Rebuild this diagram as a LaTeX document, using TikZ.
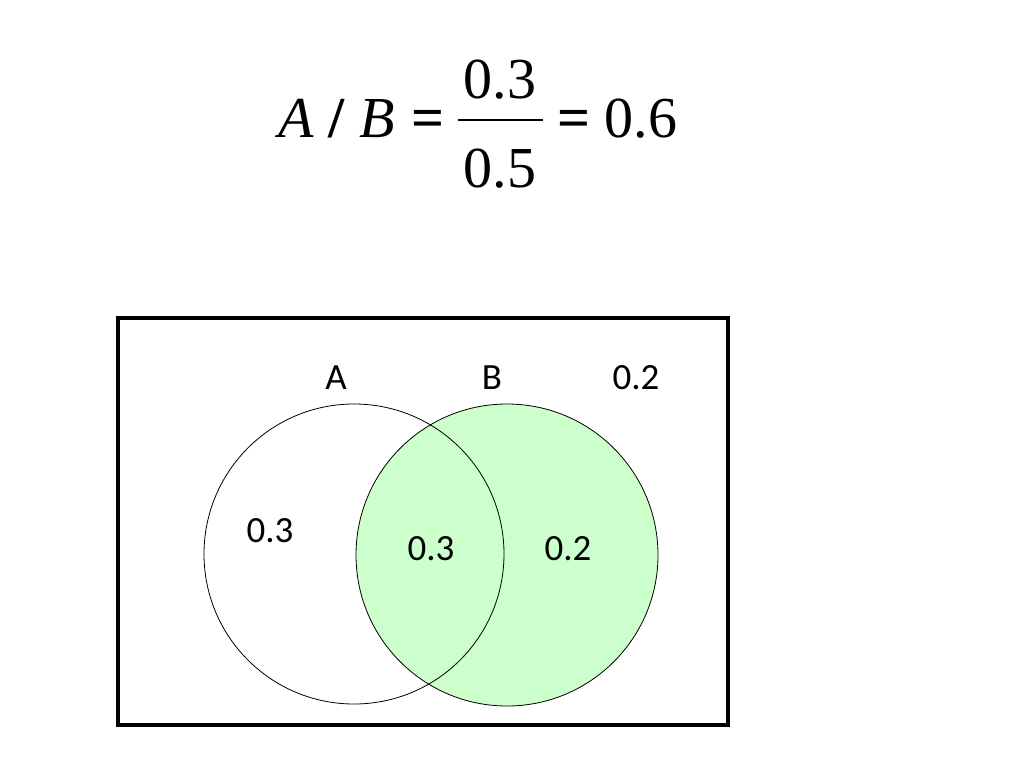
\documentclass[tikz,border=0pt]{standalone}
\usepackage{fontspec}
\setmainfont{Liberation Serif}
\newfontfamily\labelfont{Carlito}
\definecolor{vennfill}{HTML}{CCFFCC}

\begin{document}
\begin{tikzpicture}[x=1pt, y=-1pt,
  venn/.style={draw=black, line width=0.8pt},
  lab/.style={font=\labelfont\fontsize{37}{40}\selectfont, inner sep=0pt},
  eq/.style={font=\fontsize{58}{62}\selectfont, inner sep=0pt, anchor=base}]

% ============================================================ page margins
\useasboundingbox (0,0) rectangle (1024,768);

% ================================================================ formula
% Set as text, not math, so every glyph scales with the serif font.
\node[eq] (ratio) at (337,137) {\textit{A} \textbf{/} \textit{B}};
\node[eq] (eqA)   at (428,137) {\textbf{=}};
\node[eq] (num)   at (500,98)  {0.3};
\node[eq] (den)   at (500,187) {0.5};
\coordinate (barL) at (458,120);
\coordinate (barR) at (543,120);
\draw[line width=2.6pt] (barL) -- (barR);
\node[eq] (eqB)   at (574,137) {\textbf{=}};
\node[eq] (value) at (641,137) {0.6};

% ============================================================ sample space
\draw[line width=3.6pt] (118,318) rectangle (728,725);

% =============================================================== circles
% B is filled first, then both outlines, so the edge of A shows through.
\fill[vennfill] (507,555) circle (151);
\draw[venn] (354,554) circle (150);
\draw[venn] (507,555) circle (151);

% ================================================================ labels
\node[lab] (labA)   at (336,378) {A};
\node[lab] (labB)   at (492,378) {B};
\node[lab] (outer)  at (636,378) {0.2};
\node[lab] (onlyA)  at (270,531) {0.3};
\node[lab] (both)   at (431,549) {0.3};
\node[lab] (onlyB)  at (568,549) {0.2};

\end{tikzpicture}
\end{document}
